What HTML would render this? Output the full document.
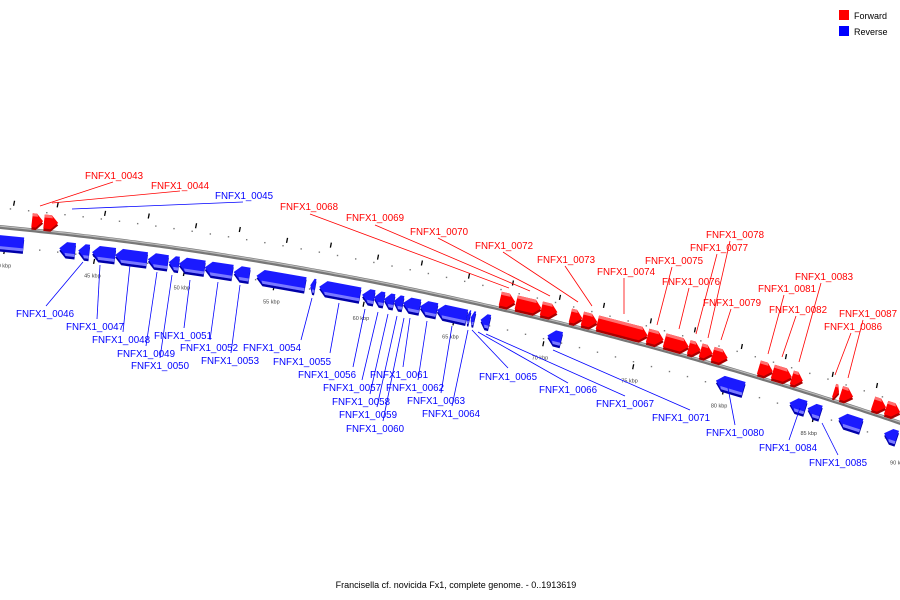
<!DOCTYPE html>
<html><head><meta charset="utf-8"><style>
body{margin:0;background:#fff;}
svg{display:block;font-family:"Liberation Sans","DejaVu Sans",sans-serif;}
</style></head><body>
<svg id="chart" width="900" height="600" viewBox="0 0 900 600">
<g id="ticks"></g>
<g id="backbone"></g>
<g id="genes"></g>
<g id="labels"></g>
<g>
<rect x="839" y="10" width="10" height="10" fill="#f00"/>
<text x="854" y="19" font-size="9" fill="#000">Forward</text>
<rect x="839" y="26" width="10" height="10" fill="#00f"/>
<text x="854" y="35" font-size="9" fill="#000">Reverse</text>
</g>
<text x="456" y="588" font-size="9" text-anchor="middle" fill="#000">Francisella cf. novicida Fx1, complete genome. - 0..1913619</text>
</svg>
<script>
const fwdNames=["FNFX1_0043","FNFX1_0044","FNFX1_0068","FNFX1_0069","FNFX1_0070","FNFX1_0072","FNFX1_0073","FNFX1_0074","FNFX1_0075","FNFX1_0076","FNFX1_0077","FNFX1_0078","FNFX1_0079","FNFX1_0081","FNFX1_0082","FNFX1_0083","FNFX1_0086","FNFX1_0087","","" ];
const fwdStart=[41.35,42.01,67.18,68.06,69.45,71.05,71.71,72.54,75.31,76.25,77.58,78.24,78.90,81.45,82.22,83.27,85.60,85.98,87.75,88.47];
const fwdEnd=[41.96,42.79,68.01,69.45,70.33,71.71,72.54,75.31,76.19,77.58,78.24,78.90,79.73,82.22,83.27,83.88,85.87,86.65,88.47,89.25];
const revNames=["","FNFX1_0046","FNFX1_0047","FNFX1_0048","FNFX1_0049","FNFX1_0050","FNFX1_0051","FNFX1_0052","FNFX1_0053","FNFX1_0054","FNFX1_0055","FNFX1_0056","FNFX1_0057","FNFX1_0058","FNFX1_0059","FNFX1_0060","FNFX1_0061","FNFX1_0062","FNFX1_0063","FNFX1_0064","FNFX1_0065","FNFX1_0066","FNFX1_0067","FNFX1_0071","FNFX1_0080","FNFX1_0084","FNFX1_0085","",""];
const revStart=[38.9,43.01,44.06,44.83,46.11,47.93,49.09,49.65,51.08,52.69,53.96,56.95,57.44,59.82,60.49,61.04,61.59,62.09,63.03,63.97,65.63,65.85,66.40,70.11,79.46,83.55,84.55,86.26,88.8];
const revEnd=[41.02,43.89,44.67,46.11,47.88,49.04,49.65,51.08,52.63,53.57,56.67,57.22,59.71,60.49,61.04,61.59,62.09,63.03,63.97,65.63,65.80,66.07,66.90,70.88,81.0,84.43,85.27,87.53,89.5];
const kbpTicks=[40,45,50,55,60,65,70,75,80,85,90];
const labText=["FNFX1_0043","FNFX1_0044","FNFX1_0045","FNFX1_0068","FNFX1_0069","FNFX1_0070","FNFX1_0072","FNFX1_0073","FNFX1_0074","FNFX1_0075","FNFX1_0076","FNFX1_0077","FNFX1_0078","FNFX1_0079","FNFX1_0081","FNFX1_0082","FNFX1_0083","FNFX1_0086","FNFX1_0087",
"FNFX1_0046","FNFX1_0047","FNFX1_0048","FNFX1_0049","FNFX1_0050","FNFX1_0051","FNFX1_0052","FNFX1_0053","FNFX1_0054","FNFX1_0055","FNFX1_0056","FNFX1_0057","FNFX1_0058","FNFX1_0059","FNFX1_0060","FNFX1_0061","FNFX1_0062","FNFX1_0063","FNFX1_0064","FNFX1_0065","FNFX1_0066","FNFX1_0067","FNFX1_0071","FNFX1_0080","FNFX1_0084","FNFX1_0085"];
const labX=[85,151,215,280,346,410,475,537,597,645,662,690,706,703,758,769,795,824,839,
16,66,92,117,131,154,180,201,243,273,298,323,332,339,346,370,386,407,422,479,539,596,652,706,759,809];
const labY=[179,189,199,210,221,235,249,263,275,264,285,251,238,306,292,313,280,330,317,
317,330,343,357,369,339,351,364,351,365,378,391,405,418,432,378,391,404,417,380,393,407,421,436,451,466];
const lineA=[[113,182],[180,191],[243,202],[310,214],[375,225],[438,238],[503,252],[565,266],[624,278],[672,267],[689,288],[717,254],[730,241],[731,309],[784,295],[796,316],[821,283],[851,333],[863,320],
[46,306],[97,319],[123,332],[146,346],[160,358],[184,328],[210,340],[231,353],[301,340],[330,353],[353,367],[362,380],[370,394],[377,407],[383,421],[403,367],[418,380],[441,393],[452,406],[508,368],[568,383],[625,396],[690,410],[735,425],[789,440],[838,455]];
const lineB=[[40,206],[52,203],[72,209],[509,288],[530,291],[550,296],[578,302],[592,306],[624,314],[657,325],[679,329],[696,334],[708,338],[721,340],[768,354],[782,357],[799,362],[835,375],[848,378],
[83,262],[100,265],[130,265],[157,272],[172,275],[190,280],[218,282],[240,285],[312,298],[339,303],[365,309],[378,312],[388,314],[397,316],[404,318],[410,318],[427,321],[452,326],[468,330],[472,330],[478,332],[486,334],[553,350],[728,388],[800,408],[822,423]];

const NS="http://www.w3.org/2000/svg";
function X(k){return 97+(k-45)*18.08;}
function Y(x){return 227+0.0962*x+0.0001348*x*x;}
function S(x){return 0.0962+0.0002696*x;}
function P(x,off){const s=S(x),n=Math.sqrt(1+s*s);return [x+s*off/n,Y(x)-off/n];}
function mk(tag,attrs,parent){const e=document.createElementNS(NS,tag);for(const k in attrs)e.setAttribute(k,attrs[k]);parent.appendChild(e);return e;}
function pts(a){return a.map(p=>p[0].toFixed(1)+","+p[1].toFixed(1)).join(" ");}

const ticks=document.getElementById('ticks');
for(let k=37;k<=92;k++){
  const x=X(k);
  if(x<-5||x>905)continue;
  let p=P(x+2,19);
  let d=mk('rect',{x:p[0]-0.7,y:p[1]-0.7,width:1.4,height:1.4,fill:'#777'},ticks);
  
  
  p=P(x-1,-19);
  d=mk('rect',{x:p[0]-0.7,y:p[1]-0.7,width:1.4,height:1.4,fill:'#777'},ticks);
  
  
}
kbpTicks.forEach(k=>{
  const x=X(k);
  let p=P(x+5,25);
  let t=mk('line',{x1:p[0]+0.5,y1:p[1]-2.5,x2:p[0]-0.5,y2:p[1]+2.5,stroke:'#000','stroke-width':1.3},ticks);
  
  
  p=P(x,-24);
  t=mk('line',{x1:p[0]+0.5,y1:p[1]-2.5,x2:p[0]-0.5,y2:p[1]+2.5,stroke:'#000','stroke-width':1.3},ticks);
  
  
  p=P(x+48,28);
  t=mk('line',{x1:p[0]+0.5,y1:p[1]-2.5,x2:p[0]-0.5,y2:p[1]+2.5,stroke:'#000','stroke-width':1.3},ticks);
  
  
  p=P(x,-38);
  const lb=mk('text',{x:p[0],y:p[1]+2,'font-size':5.5,'text-anchor':'middle',fill:'#444'},ticks);
  lb.textContent=k+" kbp";
  
  
});

const bb=document.getElementById('backbone');
let d="M";for(let x=-5;x<=905;x+=5){d+=x+","+Y(x).toFixed(1)+" ";}
let b1=mk('path',{d:d,fill:'none',stroke:'#777','stroke-width':4},bb);


let b2=mk('path',{d:d,fill:'none',stroke:'#bbb','stroke-width':1.2,transform:'translate(0,-0.8)'},bb);



const genes=document.getElementById('genes');
function gene(k1,k2,fwd,name){
  const xa=X(k1),xb=X(k2),len=xb-xa,h=Math.min(7,len*0.6);
  const o1=fwd?3:-8,o2=fwd?17:-22,mid=(o1+o2)/2;
  const g=mk('g',{},genes);
  
  
  let poly;
  if(fwd) poly=[P(xa,o1),P(xa,o2),P(xb-h,o2),P(xb,mid),P(xb-h,o1)];
  else poly=[P(xb,o1),P(xb,o2),P(xa+h,o2),P(xa,mid),P(xa+h,o1)];
  const dark=fwd?'#a00':'#0000a8',main=fwd?'#f00':'#1a1aff',light=fwd?'#ff7070':'#7a7aff';
  const sh=poly.map(p=>[p[0],p[1]+2.5]);
  mk('polygon',{points:pts(sh),fill:dark},g);
  mk('polygon',{points:pts(poly),fill:main},g);
  const t=o2; const t2=fwd?o2-3:o2+3;
  let top;
  if(fwd) top=[P(xa,t2),P(xa,t),P(xb-h,t),P(xb-h*0.8,t2)];
  else top=[P(xb,t2),P(xb,t),P(xa+h,t),P(xa+h*0.8,t2)];
  mk('polygon',{points:pts(top),fill:light},g);
}
fwdStart.forEach((s,i)=>gene(s,fwdEnd[i],true,fwdNames[i]));
revStart.forEach((s,i)=>gene(s,revEnd[i],false,revNames[i]));

const labels=document.getElementById('labels');
labText.forEach((t,i)=>{
  const red=i<19&&i!==2;
  const col=red?'#f00':'#00f';
  const ln=mk('line',{x1:lineA[i][0],y1:lineA[i][1],x2:lineB[i][0],y2:lineB[i][1],stroke:col,'stroke-width':0.8},labels);
  
  
  const tx=mk('text',{x:labX[i],y:labY[i],'font-size':10.5,fill:col,textLength:58,lengthAdjust:'spacingAndGlyphs'},labels);
  tx.textContent=t;
  
  
});
</script>
</body></html>
